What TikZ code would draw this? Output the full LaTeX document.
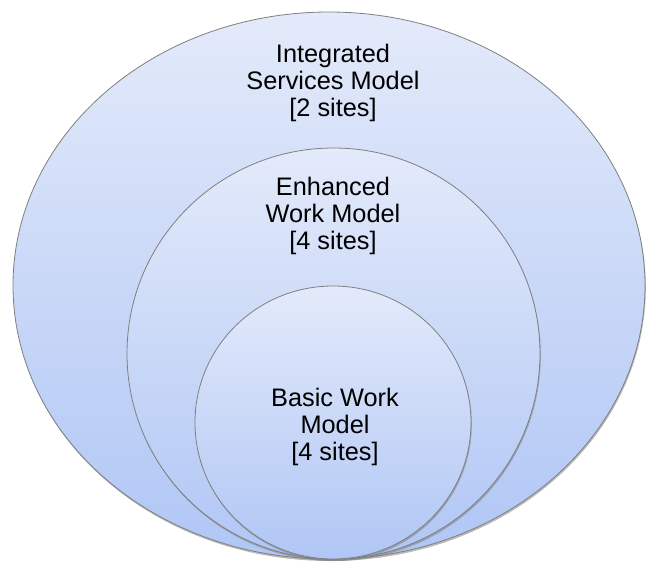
\documentclass[tikz,border=0pt]{standalone}
\usepackage{fontspec}
\setmainfont{Liberation Sans}
\usetikzlibrary{positioning}
\usetikzlibrary{shapes.geometric,shadows}

\definecolor{rimgray}{HTML}{7F7F7F}
\definecolor{paletop}{HTML}{E3EAFA}
\definecolor{palebottom}{HTML}{B0C6F5}

\begin{document}
\begin{tikzpicture}[x=0.75pt,y=-0.75pt]
\tikzset{model/.style={shape=ellipse, draw=rimgray, line width=0.6pt, inner sep=0pt,
  top color=paletop, bottom color=palebottom,
  drop shadow={shadow xshift=0.6pt, shadow yshift=-1.5pt, opacity=0.55}},
  caption/.style={align=center, inner sep=0pt, font=\fontsize{19}{20.25}\selectfont}}
\useasboundingbox (0,0) rectangle (647,565);
\node [model, minimum width=474pt, minimum height=410.25pt] at (329,285.5) (integrated) {};
\node [model, minimum width=309.75pt, minimum height=308.25pt] at (333.5,353.5) (enhanced) {};
\node [model, minimum width=207pt, minimum height=204.75pt] at (333,422.5) (basic) {};
\node [caption] at (333,83) (integratedtext) {Integrated\\Services Model\\{}[2 sites]};
\node [caption] at (333,216) (enhancedtext) {Enhanced\\Work Model\\{}[4 sites]};
\node [caption] at (335,427) (basictext) {Basic Work\\Model\\{}[4 sites]};
\end{tikzpicture}
\end{document}
